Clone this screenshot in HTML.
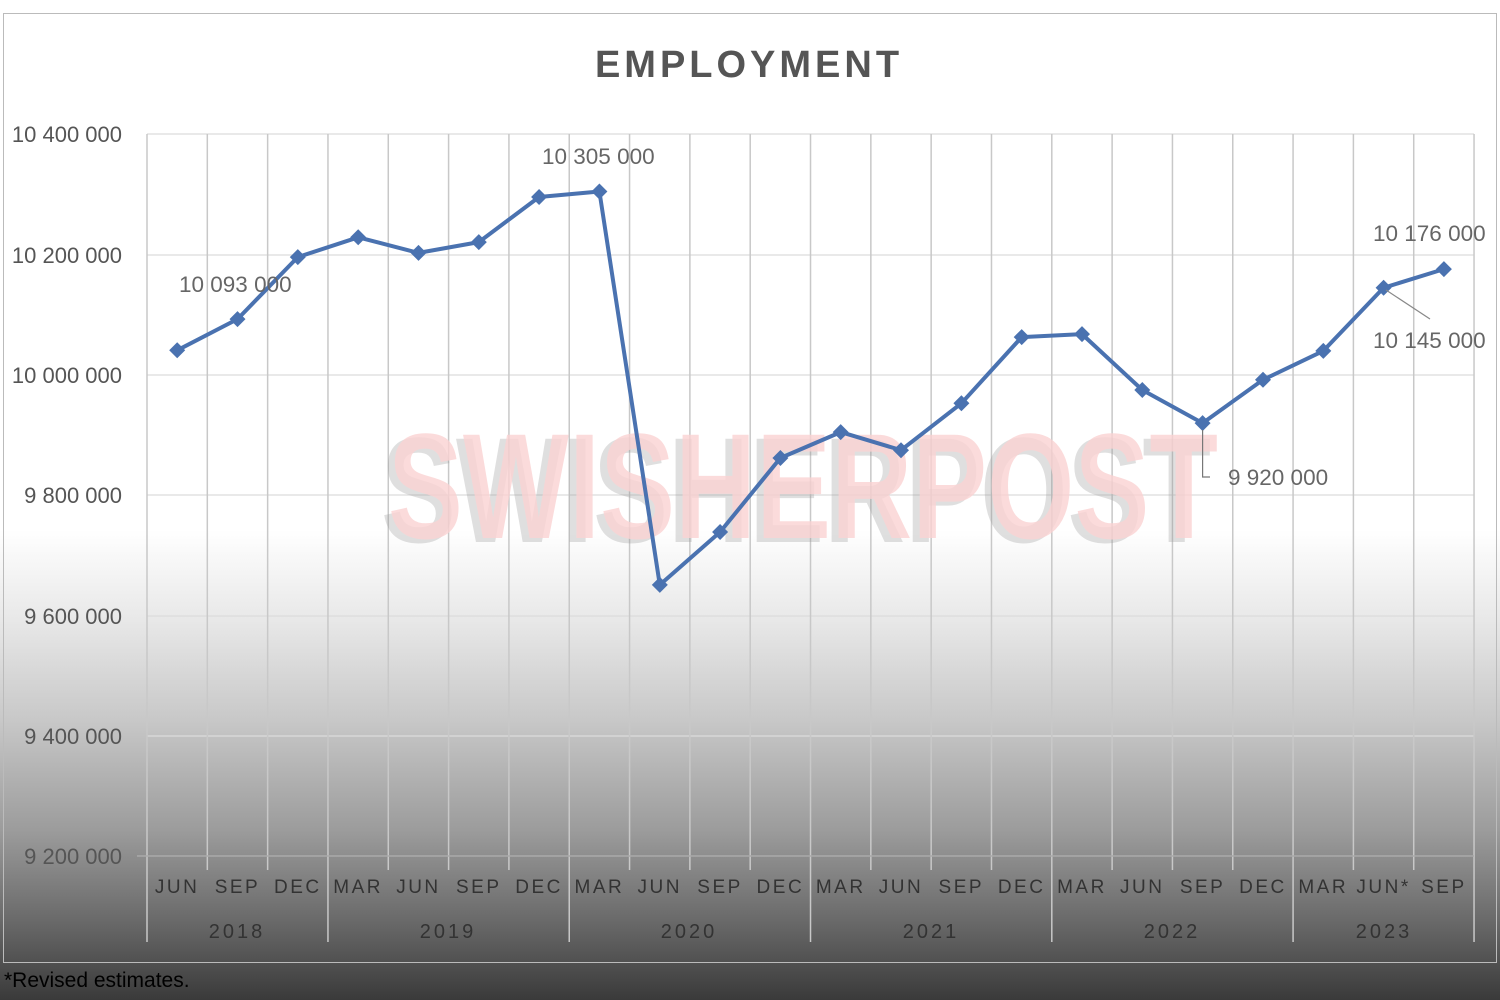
<!DOCTYPE html>
<html><head><meta charset="utf-8"><style>
html,body{margin:0;padding:0;width:1500px;height:1000px;overflow:hidden}
body{background:linear-gradient(to bottom,#fff 0%,#fff 53%,#e8e8e8 62%,#c8c8c8 72%,#9c9c9c 83%,#6a6a6a 92%,#3a3a3a 100%)}
svg{position:absolute;left:0;top:0;font-family:"Liberation Sans",sans-serif}
</style></head><body>
<svg width="1500" height="1000" viewBox="0 0 1500 1000">
<rect x="3.5" y="13.5" width="1493" height="949" fill="none" stroke="#bbb" stroke-width="1"/>
<text x="749" y="77" text-anchor="middle" font-size="38" font-weight="bold" fill="#555" letter-spacing="4">EMPLOYMENT</text>
<g stroke="#dcdcdc" stroke-width="1.2">
<line x1="147" y1="134" x2="1474" y2="134"/><line x1="147" y1="255" x2="1474" y2="255"/><line x1="147" y1="375" x2="1474" y2="375"/><line x1="147" y1="495" x2="1474" y2="495"/><line x1="147" y1="616" x2="1474" y2="616"/><line x1="147" y1="736" x2="1474" y2="736"/>
</g>
<g stroke="#c8c8c8" stroke-width="1.5" id="vg"></g>
<line x1="137" y1="856" x2="1474" y2="856" stroke="#aaa" stroke-width="1.5"/>
<g font-size="22" fill="#555" text-anchor="end">
<text x="122" y="142">10 400 000</text><text x="122" y="263">10 200 000</text><text x="122" y="383">10 000 000</text><text x="122" y="503">9 800 000</text><text x="122" y="624">9 600 000</text><text x="122" y="744">9 400 000</text><text x="122" y="864">9 200 000</text>
</g>
<text x="803" y="538" text-anchor="middle" font-size="150" font-weight="bold" font-family="'Liberation Sans Narrow','Liberation Sans',sans-serif" textLength="830" lengthAdjust="spacingAndGlyphs" fill="#999" opacity="0.3" transform="translate(-7,4)">SWISHERPOST</text>
<text x="803" y="538" text-anchor="middle" font-size="150" font-weight="bold" font-family="'Liberation Sans Narrow','Liberation Sans',sans-serif" textLength="830" lengthAdjust="spacingAndGlyphs" fill="#fbd3d3" opacity="0.8">SWISHERPOST</text>
<g id="cat" font-size="19" fill="#333" text-anchor="middle" letter-spacing="2.5"></g>
<g font-size="20" fill="#333" text-anchor="middle" letter-spacing="3">
<text x="237" y="938">2018</text><text x="448" y="938">2019</text><text x="689" y="938">2020</text><text x="931" y="938">2021</text><text x="1172" y="938">2022</text><text x="1384" y="938">2023</text>
</g>
<polyline fill="none" stroke="#4a72b0" stroke-width="4" stroke-linejoin="round" points="177.2,350.3 237.5,319.1 297.8,257.1 358.2,237.3 418.5,252.9 478.8,242.1 539.1,197 599.4,191.5 659.8,584.9 720.1,532 780.4,458 840.7,432.1 901,450.2 961.4,403.3 1021.7,337.1 1082,334.1 1142.3,390 1202.6,423.1 1263,379.8 1323.3,350.9 1383.6,287.8 1443.9,269.1"/>
<g id="mk" fill="#4a72b0"></g>
<polyline points="1202.6,430 1202.6,477 1210,477" fill="none" stroke="#777" stroke-width="1.2"/>
<line x1="1386" y1="290" x2="1430" y2="319" stroke="#888" stroke-width="1.2"/>
<g font-size="22.5" fill="#666">
<text x="179" y="292">10 093 000</text>
<text x="542" y="164">10 305 000</text>
<text x="1373" y="241">10 176 000</text>
<text x="1373" y="348">10 145 000</text>
<text x="1228" y="485">9 920 000</text>
</g>
<text x="4" y="987" font-size="21" fill="#000">*Revised estimates.</text>
</svg>
<script>
var ns="http://www.w3.org/2000/svg";
var vg=document.getElementById('vg'),cat=document.getElementById('cat'),mk=document.getElementById('mk');
var w=60.32;
var big=[0,3,7,11,15,19,22];
for(var i=0;i<=22;i++){var x=147+w*i;var l=document.createElementNS(ns,'line');l.setAttribute('x1',x);l.setAttribute('x2',x);l.setAttribute('y1',134);l.setAttribute('y2',big.indexOf(i)>=0?942:(i==22?856:870));vg.appendChild(l);}
var m=["JUN","SEP","DEC","MAR","JUN","SEP","DEC","MAR","JUN","SEP","DEC","MAR","JUN","SEP","DEC","MAR","JUN","SEP","DEC","MAR","JUN*","SEP"];
for(var i=0;i<22;i++){var t=document.createElementNS(ns,'text');t.setAttribute('x',147+w*(i+0.5));t.setAttribute('y',893);t.textContent=m[i];cat.appendChild(t);}
var p=document.querySelector('polyline').getAttribute('points').split(' ');
p.forEach(function(s){var a=s.split(',');var x=+a[0],y=+a[1];var q=document.createElementNS(ns,'polygon');q.setAttribute('points',(x)+','+(y-8)+' '+(x+8)+','+y+' '+x+','+(y+8)+' '+(x-8)+','+y);mk.appendChild(q);});
</script>
</body></html>
